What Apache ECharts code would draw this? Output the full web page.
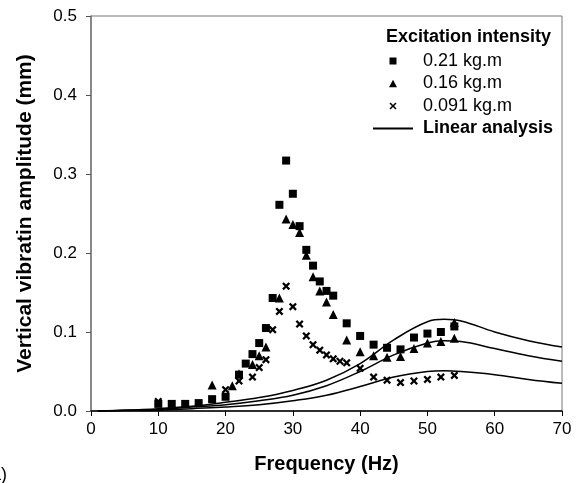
<!DOCTYPE html>
<html>
<head>
<meta charset="utf-8">
<script src="https://cdn.jsdelivr.net/npm/echarts@6/dist/echarts.min.js"></script>
<style>
  html, body { margin: 0; padding: 0; background: #fff; }
  #main { width: 580px; height: 483px; }
</style>
</head>
<body>
<div id="main"></div>
<script>
// measured points, 0.21 kg.m (squares)
const sqFreq = [10,12,14,16,18,20,22,23,24,25,26,27,28,29,30,31,32,33,34,35,36,38,40,42,44,46,48,50,52,54];
const sqAmp = [0.009,0.009,0.009,0.010,0.015,0.018,0.046,0.060,0.072,0.086,0.105,0.143,0.261,0.317,0.275,0.234,0.204,0.184,0.164,0.152,0.146,0.111,0.095,0.084,0.080,0.078,0.093,0.098,0.100,0.107];

// 0.16 kg.m (triangles)
const triFreq = [18,21,22,24,25,26,28,29,30,31,32,33,34,35,36,38,40,42,44,46,48,50,52,54,54];
const triAmp = [0.033,0.032,0.047,0.059,0.070,0.081,0.143,0.243,0.236,0.226,0.197,0.170,0.152,0.138,0.122,0.090,0.075,0.070,0.068,0.069,0.079,0.086,0.088,0.092,0.112];

// 0.091 kg.m (crosses)
const crFreq = [10,20,22,24,25,26,27,28,29,30,31,32,33,34,35,36,37,38,40,42,44,46,48,50,52,54];
const crAmp = [0.012,0.027,0.038,0.043,0.055,0.065,0.103,0.126,0.158,0.132,0.110,0.095,0.084,0.077,0.071,0.066,0.063,0.061,0.054,0.043,0.039,0.036,0.038,0.040,0.043,0.045];

// linear analysis curves
const lineFreq = [1,5,10,15,20,25,30,35,40,45,50,52.5,55,60,65,70];
const lin021 = [0,0.001,0.003,0.006,0.011,0.017,0.026,0.039,0.060,0.090,0.113,0.116,0.114,0.100,0.089,0.081];
const lin016 = [0,0.001,0.002,0.005,0.008,0.013,0.020,0.032,0.050,0.071,0.086,0.089,0.088,0.079,0.070,0.063];
const lin0091 = [0,0.0005,0.001,0.003,0.005,0.008,0.013,0.020,0.031,0.043,0.050,0.051,0.050,0.046,0.040,0.035];

const xTicks = [0,10,20,30,40,50,60,70];

const font = "'Liberation Sans', Arial, sans-serif";
const crossPath = 'path://M0,2 L2,0 L5,3 L8,0 L10,2 L7,5 L10,8 L8,10 L5,7 L2,10 L0,8 L3,5 Z';

// legend icons: a 40x9 box with the marker in the middle (tiny end dots keep the box wide)
const ends = 'M0,4.5 L0.01,4.5 L0.01,4.51 Z M39.99,4.5 L40,4.5 L40,4.51 Z ';
const sqIcon = 'path://' + ends + 'M16.5,1 L23.5,1 L23.5,8 L16.5,8 Z';
const triIcon = 'path://' + ends + 'M20,0.5 L24,8 L16,8 Z';
const crIcon = 'path://' + ends + 'M16.5,2.1 L17.6,1 L20,3.4 L22.4,1 L23.5,2.1 L21.1,4.5 L23.5,6.9 L22.4,8 L20,5.6 L17.6,8 L16.5,6.9 L18.9,4.5 Z';

const zip = (xs, ys) => xs.map((x, i) => [x, ys[i]]);

const chart = echarts.init(document.getElementById('main'));

const lineSeries = (data) => ({
  name: 'Linear analysis',
  type: 'line',
  data: zip(lineFreq, data),
  symbol: 'none',
  smooth: 0.4,
  lineStyle: { color: '#000', width: 1.5 },
  itemStyle: { color: '#000' },
  z: 2
});

const option = {
  animation: false,
  backgroundColor: '#fff',
  textStyle: { fontFamily: font },
  title: {
    text: 'Excitation intensity',
    left: 386,
    top: 28,
    padding: 0,
    textStyle: { fontFamily: font, fontSize: 18, fontWeight: 'bold', color: '#000' }
  },
  legend: {
    orient: 'vertical',
    left: 372,
    top: 51,
    padding: 0,
    itemWidth: 40,
    itemHeight: 9,
    itemGap: 2.5,
    textStyle: { fontFamily: font, fontSize: 18, color: '#000', lineHeight: 20, padding: [0, 0, 0, 5] },
    data: [
      { name: '0.21 kg.m', icon: sqIcon },
      { name: '0.16 kg.m', icon: triIcon },
      { name: '0.091 kg.m', icon: crIcon },
      { name: 'Linear analysis', textStyle: { fontWeight: 'bold' }, itemStyle: { opacity: 0, color: 'rgba(0,0,0,0)' } }
    ]
  },
  grid: {
    left: 91, right: 18, top: 16, bottom: 72,
    show: true, borderColor: '#777', borderWidth: 1
  },
  xAxis: {
    type: 'value',
    min: 0, max: 70, interval: 10,
    name: 'Frequency (Hz)',
    nameLocation: 'middle',
    nameGap: 43,
    nameTextStyle: { fontFamily: font, fontSize: 20, fontWeight: 'bold', color: '#000' },
    axisLine: { show: true, onZero: false, lineStyle: { color: '#000', width: 1.5 } },
    axisTick: { show: true, inside: false, length: 5, lineStyle: { color: '#000' } },
    axisLabel: {
      margin: 10, fontSize: 17, color: '#000', fontFamily: font,
      formatter: v => xTicks.includes(v) ? String(v) : ''
    },
    splitLine: { show: false }
  },
  yAxis: {
    type: 'value',
    min: 0, max: 0.5, interval: 0.1,
    name: 'Vertical vibratin amplitude (mm)',
    nameLocation: 'middle',
    nameGap: 55,
    nameTextStyle: { fontFamily: font, fontSize: 21, fontWeight: 'bold', color: '#000' },
    axisLine: { show: true, lineStyle: { color: '#777', width: 1.5 } },
    axisTick: { show: true, inside: false, length: 5, lineStyle: { color: '#555' } },
    axisLabel: {
      margin: 14, fontSize: 17, color: '#000', fontFamily: font,
      formatter: v => v.toFixed(1)
    },
    splitLine: { show: false }
  },
  graphic: [
    { type: 'text', left: -9, top: 466, style: { text: 'a)', font: '18px ' + font, fill: '#000' } }
  ],
  series: [
    {
      name: '0.21 kg.m', type: 'scatter', data: zip(sqFreq, sqAmp),
      symbol: 'rect', symbolSize: 8,
      itemStyle: { color: '#000', opacity: 1 }, z: 3
    },
    {
      name: '0.16 kg.m', type: 'scatter', data: zip(triFreq, triAmp),
      symbol: 'triangle', symbolSize: 9,
      itemStyle: { color: '#000', opacity: 1 }, z: 3
    },
    {
      name: '0.091 kg.m', type: 'scatter', data: zip(crFreq, crAmp),
      symbol: crossPath, symbolSize: 8,
      itemStyle: { color: '#000', opacity: 1 }, z: 3
    },
    lineSeries(lin021),
    lineSeries(lin016),
    lineSeries(lin0091)
  ]
};

chart.setOption(option);
</script>
</body>
</html>
